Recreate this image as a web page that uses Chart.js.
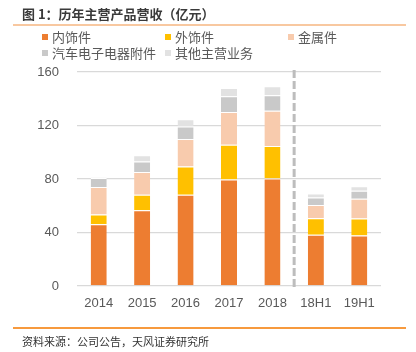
<!DOCTYPE html>
<html>
<head>
<meta charset="utf-8">
<script src="https://cdn.jsdelivr.net/npm/chart.js@4/dist/chart.umd.min.js"></script>
<style>
  html, body { margin: 0; padding: 0; background: #fff; }
  #wrap { position: relative; width: 416px; height: 352px; overflow: hidden; font-family: "Noto Sans CJK SC", "Liberation Sans", sans-serif; }
  #c { position: absolute; left: 0; top: 0; }
  .title { position: absolute; left: 22px; top: 4px; font-size: 13px; font-weight: bold; color: #3a3a3a; white-space: nowrap; line-height: 20px; }
  .rule1 { position: absolute; left: 13px; width: 393px; top: 24px; height: 2px; background: #F8C8A0; }
  .rule2 { position: absolute; left: 13px; width: 393px; top: 327px; height: 2px; background: #F79A3E; }
  .source { position: absolute; left: 22px; top: 332px; font-size: 11px; color: #333; white-space: nowrap; line-height: 18px; }
  .leg { position: absolute; font-size: 13px; color: #595959; white-space: nowrap; line-height: 16px; }
  .leg i { position: absolute; left: -10px; top: 5px; width: 6px; height: 6px; }
</style>
</head>
<body>
<div id="wrap">
  <canvas id="c" width="416" height="352"></canvas>
  <div class="title">图 1：历年主营产品营收（亿元）</div>
  <div class="rule1"></div>
  <div id="legend"></div>
  <div class="rule2"></div>
  <div class="source">资料来源：公司公告，天风证券研究所</div>
</div>
<script>
const categories = ['2014', '2015', '2016', '2017', '2018', '18H1', '19H1'];
const seriesNames = ['内饰件', '外饰件', '金属件', '汽车电子电器附件', '其他主营业务'];
const interior   = [46.1, 56.6, 68.3, 79.6, 80.3, 38.4, 37.7];
const exterior   = [7.4, 11.7, 21.0, 26.1, 24.4, 12.2, 12.7];
const metal      = [20.6, 16.9, 20.7, 24.4, 26.4, 10.0, 14.9];
const electronic = [6.6, 7.8, 9.2, 11.7, 11.5, 5.5, 6.0];
const other      = [0.6, 4.7, 5.4, 6.2, 6.7, 3.0, 3.2];
const yTicks = [0, 40, 80, 120, 160];

const seriesValues = [interior, exterior, metal, electronic, other];
const colors = ['#ED7D31', '#FFC000', '#F8CBAD', '#C9C9C9', '#E2E2E2'];

// HTML legend (3-column grid)
const legendPos = [[52, 29], [175, 29], [298, 29], [52, 45], [175, 45]];
const legEl = document.getElementById('legend');
seriesNames.forEach((n, i) => {
  const d = document.createElement('div');
  d.className = 'leg';
  d.style.left = legendPos[i][0] + 'px';
  d.style.top = legendPos[i][1] + 'px';
  d.innerHTML = '<i style="background:' + colors[i] + '"></i>' + n;
  legEl.appendChild(d);
});

const dividerPlugin = {
  id: 'divider',
  afterDatasetsDraw(chart) {
    const ctx = chart.ctx;
    const x = chart.scales.x.getPixelForValue(4.5);
    ctx.save();
    ctx.strokeStyle = '#BDBDBD';
    ctx.lineWidth = 3;
    ctx.setLineDash([8, 3]);
    ctx.beginPath();
    ctx.moveTo(x, 70);
    ctx.lineTo(x, 289);
    ctx.stroke();
    ctx.restore();
  }
};

new Chart(document.getElementById('c'), {
  type: 'bar',
  data: {
    labels: categories,
    datasets: seriesNames.map((n, i) => ({
      label: n,
      data: seriesValues[i],
      backgroundColor: colors[i],
      borderColor: '#ffffff',
      borderWidth: { top: 1, left: 0, right: 0, bottom: 0 },
      borderSkipped: false,
      barPercentage: 0.37,
      categoryPercentage: 1.0
    }))
  },
  options: {
    responsive: false,
    animation: false,
    events: [],
    layout: { padding: { left: 0, right: 35, top: 72, bottom: 0 } },
    plugins: { legend: { display: false }, tooltip: { enabled: false }, title: { display: false } },
    scales: {
      x: {
        stacked: true,
        grid: { display: false, drawTicks: false },
        border: { display: false },
        ticks: { color: '#595959', font: { family: 'Liberation Sans', size: 13 }, padding: 10, maxRotation: 0 },
        afterFit(s) { s.height = 66; }
      },
      y: {
        stacked: true,
        min: 0, max: 160,
        afterBuildTicks(s) { s.ticks = yTicks.map(v => ({ value: v })); },
        grid: { color: '#D9D9D9', lineWidth: 1.3, drawTicks: false },
        border: { display: false },
        ticks: { color: '#595959', font: { family: 'Liberation Sans', size: 13 }, padding: 18 },
        afterFit(s) { s.width = 77; }
      }
    }
  },
  plugins: [dividerPlugin]
});
</script>
</body>
</html>
